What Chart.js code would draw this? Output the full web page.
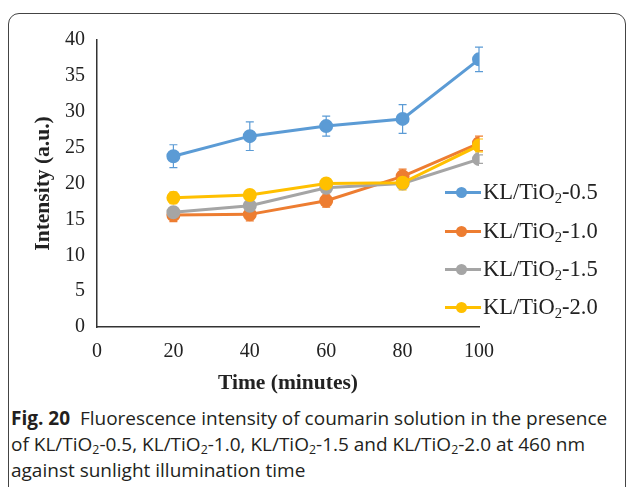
<!DOCTYPE html>
<html>
<head>
<meta charset="utf-8">
<script src="https://cdn.jsdelivr.net/npm/chart.js@4"></script>
<style>
  body { margin: 0; background: #fff; }
  #wrap { position: relative; width: 627px; height: 487px; overflow: hidden; }
  #box { position: absolute; left: 8px; top: 13px; width: 616px; height: 520px;
    border: 1px solid #444; border-radius: 11px; }
  #chartBox { position: absolute; left: 0; top: 0; width: 627px; height: 400px; }
  .legend { position: absolute; left: 442px; top: 180px; font-family: "Liberation Serif", serif;
    font-size: 22.5px; color: #222; }
  .item { position: absolute; left: 0; height: 24px; white-space: nowrap; }
  .item .ln { position: absolute; left: 3px; top: 11px; width: 36px; height: 3px; }
  .item .dot { position: absolute; left: 14px; top: 7px; width: 11px; height: 11px; border-radius: 50%; }
  .item .tx { position: absolute; left: 41px; top: 0; line-height: 24px; }
  sub { font-size: 0.65em; vertical-align: -0.25em; line-height: 0; }
  #caption { position: absolute; left: 11px; top: 405px; width: 616px; font-family: "Open Sans", sans-serif;
    font-size: 19px; line-height: 26px; color: #231f20; white-space: nowrap; }
  #caption b { font-weight: 700; }
</style>
</head>
<body>
<div id="wrap">
  <div id="box"></div>
  <div id="chartBox"><canvas id="c" width="627" height="400"></canvas></div>
  <div class="legend" id="legend"></div>
  <div id="caption"><b>Fig. 20</b>&nbsp; Fluorescence intensity of coumarin solution in the presence<br>of KL/TiO<sub>2</sub>-0.5, KL/TiO<sub>2</sub>-1.0, KL/TiO<sub>2</sub>-1.5 and KL/TiO<sub>2</sub>-2.0 at 460 nm<br>against sunlight illumination time</div>
</div>
<script>
const times = [20, 40, 60, 80, 100];
const seriesNames = ['0.5', '1.0', '1.5', '2.0'];
const kl05 = [23.8, 26.6, 28.0, 29.0, 37.3];
const kl10 = [15.6, 15.7, 17.6, 21.0, 25.6];
const kl15 = [16.0, 16.9, 19.4, 20.0, 23.4];
const kl20 = [18.0, 18.4, 20.0, 20.1, 25.3];
const err05 = [1.6, 2.0, 1.4, 2.0, 1.7];
const err10 = [0.9, 0.9, 0.9, 1.0, 1.0];
const err15 = [0.6, 0.6, 0.6, 0.6, 0.6];
const err20 = [0.8, 0.6, 0.7, 1.0, 0.9];
const yTicks = [0, 5, 10, 15, 20, 25, 30, 35, 40];
const xTicks = [0, 20, 40, 60, 80, 100];

const colors = ['#5b9bd5', '#ed7d31', '#a5a5a5', '#ffc000'];
const values = [kl05, kl10, kl15, kl20];
const errors = [err05, err10, err15, err20];

const datasets = values.map((v, i) => ({
  label: 'KL/TiO2-' + seriesNames[i],
  data: times.map((t, j) => ({ x: t, y: v[j] })),
  errors: errors[i],
  borderColor: colors[i],
  backgroundColor: colors[i],
  borderWidth: 3,
  pointRadius: 5.5,
  pointHoverRadius: 5.5,
  order: 3 - i
}));

// simple error bars, drawn through the scales
const errorBars = {
  id: 'errorBars',
  beforeDatasetsDraw (chart) {
    const ctx = chart.ctx;
    const xs = chart.scales.x, ys = chart.scales.y;
    chart.data.datasets.forEach(ds => {
      ctx.save();
      ctx.strokeStyle = ds.borderColor;
      ctx.lineWidth = 1.2;
      ds.data.forEach((p, j) => {
        const e = ds.errors[j];
        const px = xs.getPixelForValue(p.x);
        const top = ys.getPixelForValue(p.y + e);
        const bot = ys.getPixelForValue(p.y - e);
        ctx.beginPath();
        ctx.moveTo(px, top); ctx.lineTo(px, bot);
        ctx.moveTo(px - 4, top); ctx.lineTo(px + 4, top);
        ctx.moveTo(px - 4, bot); ctx.lineTo(px + 4, bot);
        ctx.stroke();
      });
      ctx.restore();
    });
  }
};

const serif = { family: '"Liberation Serif", serif', size: 20 };
const titleFont = { family: '"Liberation Serif", serif', size: 21.5, weight: 'bold' };

new Chart(document.getElementById('c'), {
  type: 'line',
  data: { datasets },
  options: {
    responsive: false,
    animation: false,
    events: [],
    layout: { padding: { left: 27, right: 148, top: 40, bottom: 0 } },
    plugins: { legend: { display: false }, tooltip: { enabled: false } },
    scales: {
      x: {
        type: 'linear', min: 0, max: 100,
        afterBuildTicks: s => { s.ticks = xTicks.map(v => ({ value: v })); },
        afterFit: s => { s.height = 73; },
        grid: { display: false, drawTicks: false },
        border: { color: '#333', width: 1.5 },
        ticks: { color: '#222', font: serif, padding: 13, maxRotation: 0 },
        title: { display: true, text: 'Time (minutes)', color: '#222', font: titleFont, padding: { top: 3 } }
      },
      y: {
        min: 0, max: 40,
        afterBuildTicks: s => { s.ticks = yTicks.map(v => ({ value: v })); },
        afterFit: s => { s.width = 70; },
        grid: { display: false, drawTicks: false },
        border: { color: '#333', width: 1.5 },
        ticks: { color: '#222', font: serif, padding: 12 },
        title: { display: true, text: 'Intensity (a.u.)', color: '#222', font: titleFont, padding: { bottom: 0 } }
      }
    }
  },
  plugins: [errorBars]
});

// legend with subscripts
const legend = document.getElementById('legend');
const legendTops = [0, 39, 77, 115];
seriesNames.forEach((n, i) => {
  const d = document.createElement('div');
  d.className = 'item';
  d.style.top = legendTops[i] + 'px';
  d.innerHTML = '<span class="ln" style="background:' + colors[i] + '"></span>' +
    '<span class="dot" style="background:' + colors[i] + '"></span>' +
    '<span class="tx">KL/TiO<sub>2</sub>-' + n + '</span>';
  legend.appendChild(d);
});
</script>
</body>
</html>
